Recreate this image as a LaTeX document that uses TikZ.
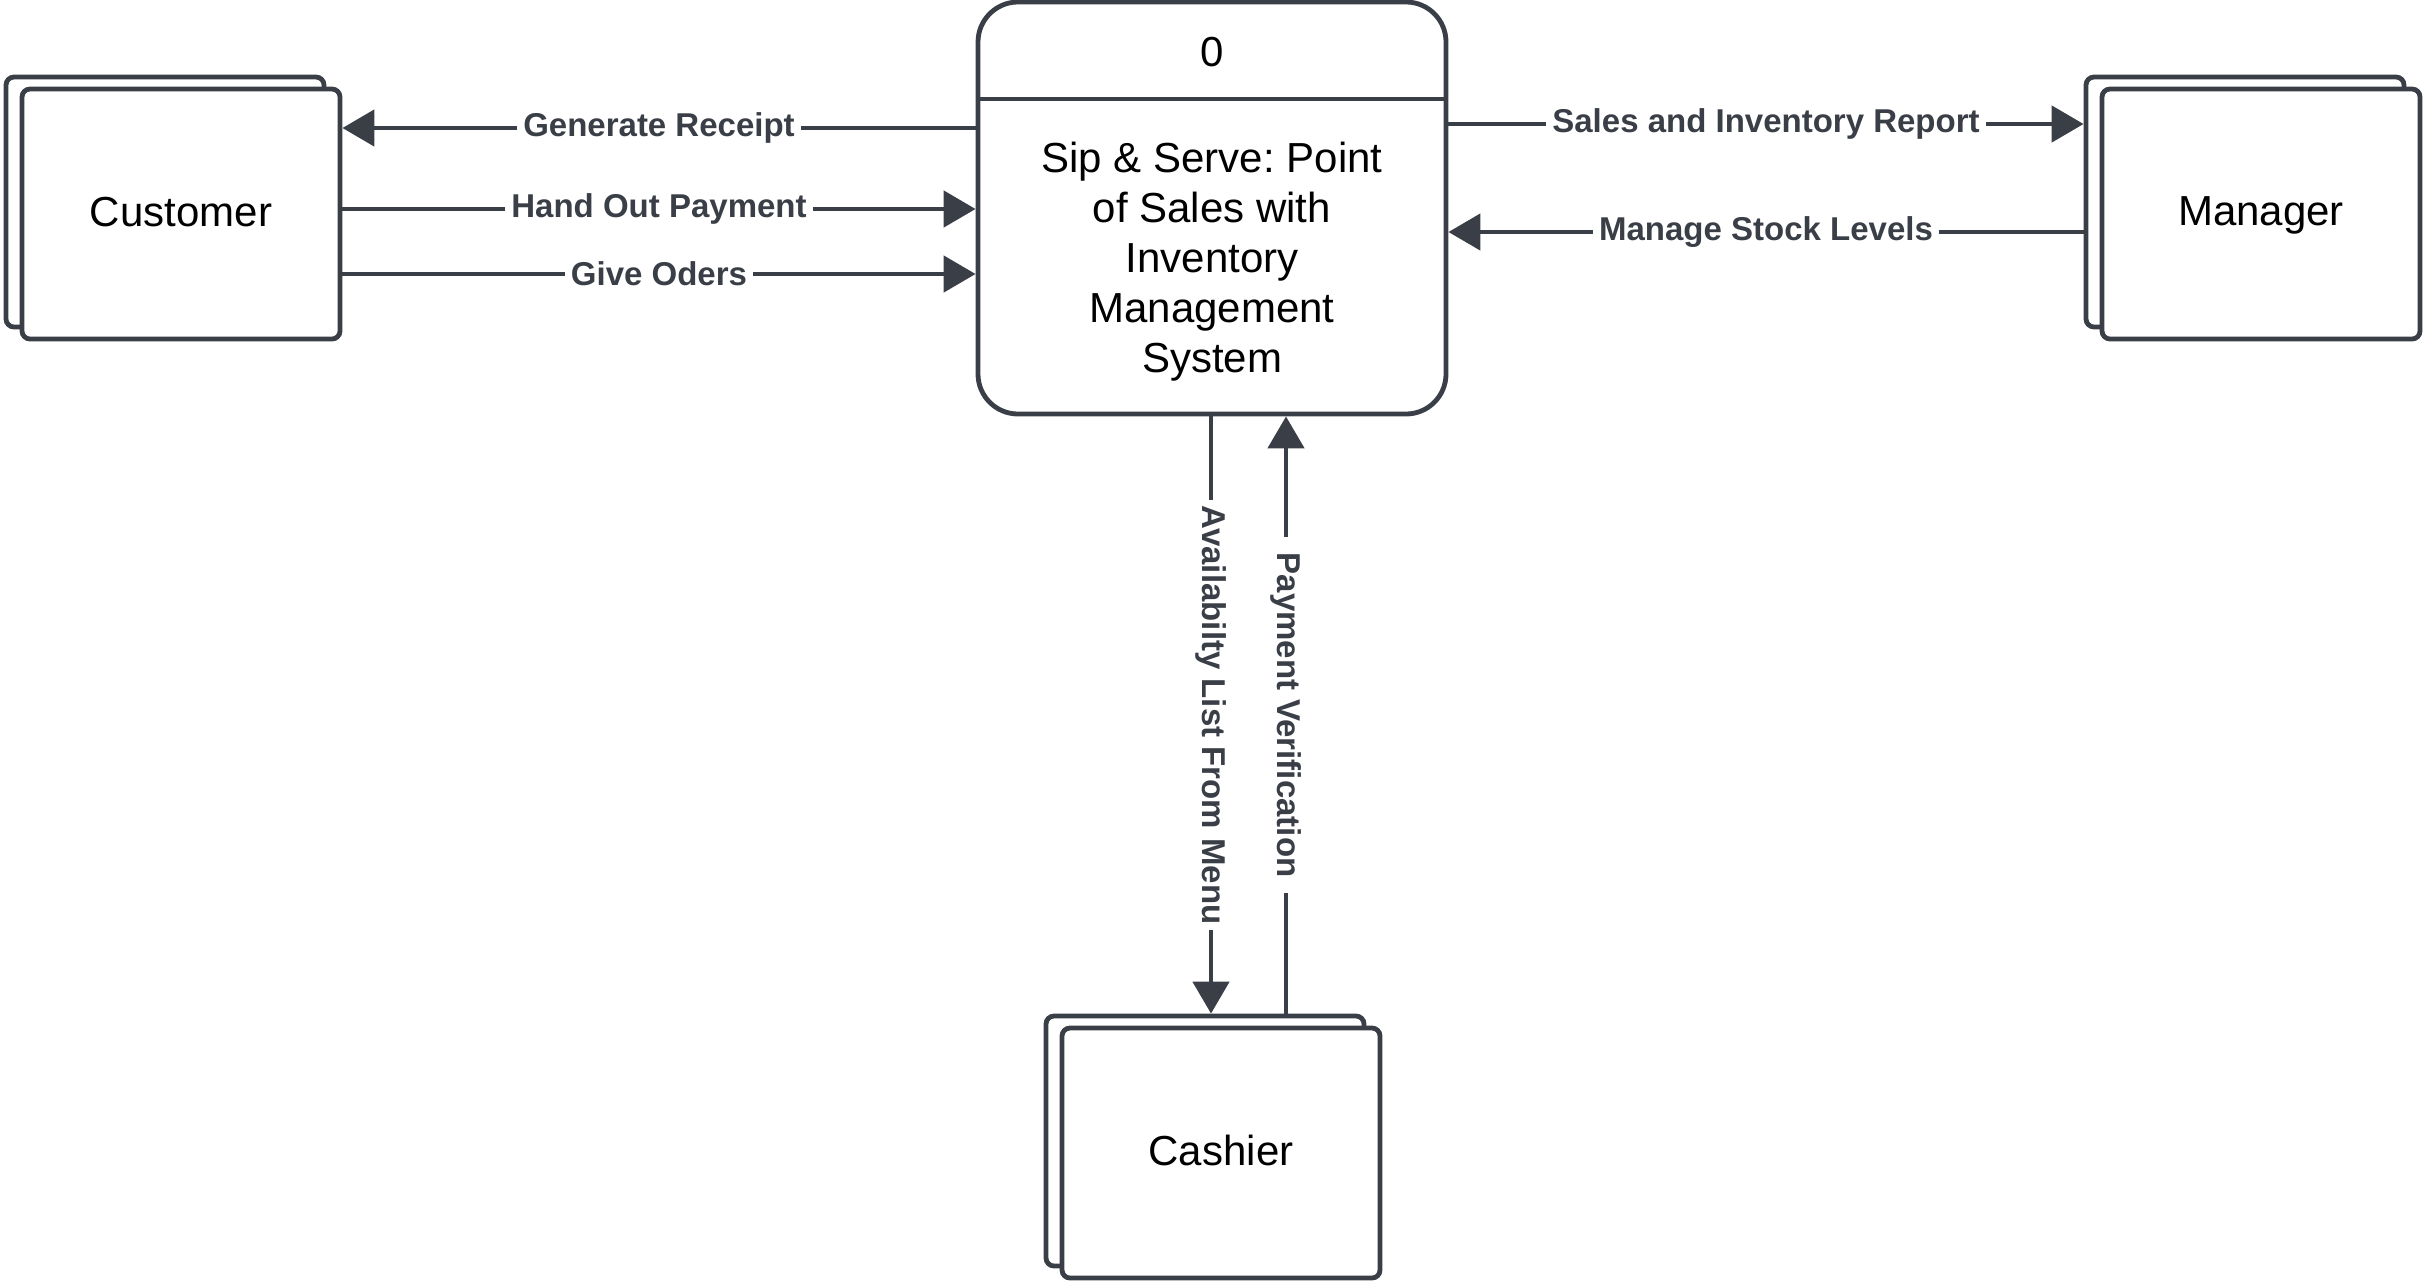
\documentclass[tikz,border=0pt]{standalone}
\usepackage{fontspec}
\setmainfont{Liberation Sans}
\usetikzlibrary{arrows.meta,shadows}
\definecolor{ink}{HTML}{3A3F47}

\begin{document}
\begin{tikzpicture}[x=0.5pt, y=-0.5pt,
    >={Triangle[length=16pt,width=18pt]},
    entity/.style={draw=ink, line width=2.4pt, fill=white, rounded corners=4pt,
      minimum width=159pt, minimum height=125pt, text depth=0.25em,
      font=\fontsize{21}{25}\selectfont,
      copy shadow={shadow xshift=-8pt, shadow yshift=6pt, draw=ink, fill=white, line width=2.4pt}},
    process/.style={draw=ink, line width=2.4pt, rounded corners=20pt,
      minimum width=234pt, minimum height=206pt},
    flow/.style={->, draw=ink, line width=2.4pt},
    lbl/.style={fill=white, text=ink, font=\bfseries\fontsize{16.5}{18}\selectfont, inner sep=3pt}]
  \useasboundingbox (0,0) rectangle (2424,1281);

  % process 0
  \node[process] (pos) at (1212,208) {};
  \node[font=\fontsize{21}{25}\selectfont] (num) at (1212,52) {0};
  \node[align=center, font=\fontsize{21}{25}\selectfont\frenchspacing] (title) at (1212,262)
    {Sip \& Serve: Point\\of Sales with\\Inventory\\Management\\System};
  \coordinate (div) at (1212,99);
  \draw[ink, line width=2.4pt] (pos.west |- div) -- (pos.east |- div);

  % external entities
  \node[entity] (cust) at (181,214) {Customer};
  \node[entity] (mgr) at (2261,214) {Manager};
  \node[entity] (cash) at (1221,1153) {Cashier};

  % customer flows
  \coordinate (c1) at ([yshift=43pt]cust.east);
  \coordinate (c2) at ([yshift=2.5pt]cust.east);
  \coordinate (c3) at ([yshift=-30pt]cust.east);
  \draw[flow] (pos.west |- c1) -- node[lbl] {Generate Receipt} (c1);
  \draw[flow] (c2) -- node[lbl] {Hand Out Payment} (pos.west |- c2);
  \draw[flow] (c3) -- node[lbl] {Give Oders} (pos.west |- c3);

  % manager flows
  \coordinate (m1) at ([xshift=-8pt,yshift=45pt]mgr.west);
  \coordinate (m2) at ([xshift=-8pt,yshift=-9pt]mgr.west);
  \draw[flow] (pos.east |- m1) -- node[lbl] {Sales and Inventory Report} (m1);
  \draw[flow] (m2) -- node[lbl] {Manage Stock Levels} (pos.east |- m2);

  % cashier flows
  \coordinate (k1) at ([xshift=-5pt,yshift=6pt]cash.north);
  \coordinate (k2) at ([xshift=32.5pt,yshift=6pt]cash.north);
  \draw[flow] (k1 |- pos.south) -- node[lbl, rotate=-90] {Availabilty List From Menu} (k1);
  \draw[flow] (k2) -- node[lbl, rotate=-90, inner xsep=8pt] {Payment Verification} (k2 |- pos.south);
\end{tikzpicture}
\end{document}
